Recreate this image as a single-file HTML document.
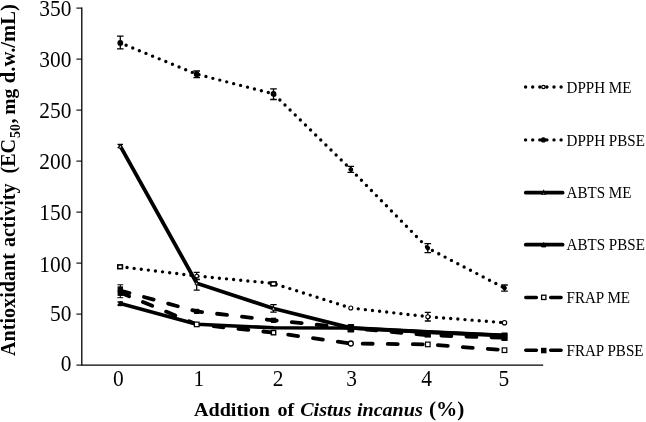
<!DOCTYPE html>
<html lang="en"><head><meta charset="utf-8"><title>Antioxidant activity chart</title>
<style>html,body{margin:0;padding:0;background:#fff;}body{width:646px;height:422px;overflow:hidden;}svg{display:block;}text{font-family:'Liberation Serif', 'DejaVu Serif', serif;fill:#000;}</style></head><body>
<svg width="646" height="422" viewBox="0 0 646 422">
<rect width="646" height="422" fill="#fff"/>
<g stroke="#000" stroke-width="1.3" fill="none">
<path d="M81.8 7.4V365.15H543.2"/>
<path d="M76.4 365.1H81.8" stroke-width="1.1"/>
<path d="M76.4 314.1H81.8" stroke-width="1.1"/>
<path d="M76.4 263.1H81.8" stroke-width="1.1"/>
<path d="M76.4 212.1H81.8" stroke-width="1.1"/>
<path d="M76.4 161.1H81.8" stroke-width="1.1"/>
<path d="M76.4 110.1H81.8" stroke-width="1.1"/>
<path d="M76.4 59.1H81.8" stroke-width="1.1"/>
<path d="M76.4 8.1H81.8" stroke-width="1.1"/>
</g>
<g font-size="21.4" text-anchor="end">
<text transform="translate(71.4 370.8) scale(1 1.088)">0</text>
<text transform="translate(71.4 321.3) scale(1 1.088)">50</text>
<text transform="translate(71.4 271.6) scale(1 1.088)">100</text>
<text transform="translate(71.4 219.7) scale(1 1.088)">150</text>
<text transform="translate(71.4 169.2) scale(1 1.088)">200</text>
<text transform="translate(71.4 118.0) scale(1 1.088)">250</text>
<text transform="translate(71.4 67.0) scale(1 1.088)">300</text>
<text transform="translate(71.4 15.6) scale(1 1.088)">350</text>
</g>
<g font-size="21.4" text-anchor="middle">
<text transform="translate(118.3 385.7) scale(1 1.088)">0</text>
<text transform="translate(198.8 385.7) scale(1 1.088)">1</text>
<text transform="translate(278.1 385.7) scale(1 1.088)">2</text>
<text transform="translate(351.7 385.7) scale(1 1.088)">3</text>
<text transform="translate(426.7 385.7) scale(1 1.088)">4</text>
<text transform="translate(503.8 385.7) scale(1 1.088)">5</text>
</g>
<g transform="translate(0 415.7) scale(1 0.935)" font-weight="bold">
<text x="194.0" y="0" font-size="20.1">Addition</text>
<text x="277.4" y="0" font-size="20.1">of</text>
<text x="300.2" y="0" font-size="20.1" font-style="italic">Cistus</text>
<text x="356.9" y="0" font-size="20.1" font-style="italic">incanus</text>
<text x="429.0" y="0" font-size="21.3">(%)</text>
</g>
<g transform="translate(14.7 353.3) rotate(-90)" font-weight="bold">
<text x="-2.6" y="0" font-size="20.1">Antioxidant</text>
<text x="106.2" y="0" font-size="20.1">activity</text>
<text x="179.8" y="0" font-size="20.1">(EC</text>
<text x="215.4" y="5.0" font-size="13.8">50</text>
<text x="229.9" y="0" font-size="20.1">,</text>
<text x="238.6" y="0" font-size="19.6">mg</text>
<text x="270.1" y="0" font-size="20.6">d.w./mL)</text>
</g>
<path d="M125.35 267.52a1.7 1.7 0 1 0 3.4 0a1.7 1.7 0 1 0 -3.4 0zM132.45 268.39a1.7 1.7 0 1 0 3.4 0a1.7 1.7 0 1 0 -3.4 0zM139.55 269.25a1.7 1.7 0 1 0 3.4 0a1.7 1.7 0 1 0 -3.4 0zM146.64 270.11a1.7 1.7 0 1 0 3.4 0a1.7 1.7 0 1 0 -3.4 0zM153.74 270.98a1.7 1.7 0 1 0 3.4 0a1.7 1.7 0 1 0 -3.4 0zM160.84 271.84a1.7 1.7 0 1 0 3.4 0a1.7 1.7 0 1 0 -3.4 0zM167.94 272.71a1.7 1.7 0 1 0 3.4 0a1.7 1.7 0 1 0 -3.4 0zM175.03 273.57a1.7 1.7 0 1 0 3.4 0a1.7 1.7 0 1 0 -3.4 0zM182.13 274.43a1.7 1.7 0 1 0 3.4 0a1.7 1.7 0 1 0 -3.4 0zM189.23 275.30a1.7 1.7 0 1 0 3.4 0a1.7 1.7 0 1 0 -3.4 0zM196.33 276.13a1.7 1.7 0 1 0 3.4 0a1.7 1.7 0 1 0 -3.4 0zM203.45 276.81a1.7 1.7 0 1 0 3.4 0a1.7 1.7 0 1 0 -3.4 0zM210.56 277.50a1.7 1.7 0 1 0 3.4 0a1.7 1.7 0 1 0 -3.4 0zM217.68 278.19a1.7 1.7 0 1 0 3.4 0a1.7 1.7 0 1 0 -3.4 0zM224.80 278.87a1.7 1.7 0 1 0 3.4 0a1.7 1.7 0 1 0 -3.4 0zM231.92 279.56a1.7 1.7 0 1 0 3.4 0a1.7 1.7 0 1 0 -3.4 0zM239.03 280.24a1.7 1.7 0 1 0 3.4 0a1.7 1.7 0 1 0 -3.4 0zM246.15 280.93a1.7 1.7 0 1 0 3.4 0a1.7 1.7 0 1 0 -3.4 0zM253.27 281.61a1.7 1.7 0 1 0 3.4 0a1.7 1.7 0 1 0 -3.4 0zM260.38 282.30a1.7 1.7 0 1 0 3.4 0a1.7 1.7 0 1 0 -3.4 0zM267.50 282.99a1.7 1.7 0 1 0 3.4 0a1.7 1.7 0 1 0 -3.4 0zM274.50 284.26a1.7 1.7 0 1 0 3.4 0a1.7 1.7 0 1 0 -3.4 0zM281.31 286.43a1.7 1.7 0 1 0 3.4 0a1.7 1.7 0 1 0 -3.4 0zM288.12 288.59a1.7 1.7 0 1 0 3.4 0a1.7 1.7 0 1 0 -3.4 0zM294.94 290.76a1.7 1.7 0 1 0 3.4 0a1.7 1.7 0 1 0 -3.4 0zM301.75 292.93a1.7 1.7 0 1 0 3.4 0a1.7 1.7 0 1 0 -3.4 0zM308.56 295.10a1.7 1.7 0 1 0 3.4 0a1.7 1.7 0 1 0 -3.4 0zM315.38 297.27a1.7 1.7 0 1 0 3.4 0a1.7 1.7 0 1 0 -3.4 0zM322.19 299.44a1.7 1.7 0 1 0 3.4 0a1.7 1.7 0 1 0 -3.4 0zM329.00 301.60a1.7 1.7 0 1 0 3.4 0a1.7 1.7 0 1 0 -3.4 0zM335.82 303.77a1.7 1.7 0 1 0 3.4 0a1.7 1.7 0 1 0 -3.4 0zM342.63 305.94a1.7 1.7 0 1 0 3.4 0a1.7 1.7 0 1 0 -3.4 0zM349.46 308.04a1.7 1.7 0 1 0 3.4 0a1.7 1.7 0 1 0 -3.4 0zM356.56 308.84a1.7 1.7 0 1 0 3.4 0a1.7 1.7 0 1 0 -3.4 0zM363.67 309.65a1.7 1.7 0 1 0 3.4 0a1.7 1.7 0 1 0 -3.4 0zM370.77 310.45a1.7 1.7 0 1 0 3.4 0a1.7 1.7 0 1 0 -3.4 0zM377.88 311.25a1.7 1.7 0 1 0 3.4 0a1.7 1.7 0 1 0 -3.4 0zM384.98 312.05a1.7 1.7 0 1 0 3.4 0a1.7 1.7 0 1 0 -3.4 0zM392.09 312.86a1.7 1.7 0 1 0 3.4 0a1.7 1.7 0 1 0 -3.4 0zM399.19 313.66a1.7 1.7 0 1 0 3.4 0a1.7 1.7 0 1 0 -3.4 0zM406.30 314.46a1.7 1.7 0 1 0 3.4 0a1.7 1.7 0 1 0 -3.4 0zM413.40 315.27a1.7 1.7 0 1 0 3.4 0a1.7 1.7 0 1 0 -3.4 0zM420.51 316.07a1.7 1.7 0 1 0 3.4 0a1.7 1.7 0 1 0 -3.4 0zM427.62 316.82a1.7 1.7 0 1 0 3.4 0a1.7 1.7 0 1 0 -3.4 0zM434.74 317.38a1.7 1.7 0 1 0 3.4 0a1.7 1.7 0 1 0 -3.4 0zM441.87 317.93a1.7 1.7 0 1 0 3.4 0a1.7 1.7 0 1 0 -3.4 0zM449.00 318.49a1.7 1.7 0 1 0 3.4 0a1.7 1.7 0 1 0 -3.4 0zM456.13 319.05a1.7 1.7 0 1 0 3.4 0a1.7 1.7 0 1 0 -3.4 0zM463.26 319.61a1.7 1.7 0 1 0 3.4 0a1.7 1.7 0 1 0 -3.4 0zM470.39 320.16a1.7 1.7 0 1 0 3.4 0a1.7 1.7 0 1 0 -3.4 0zM477.51 320.72a1.7 1.7 0 1 0 3.4 0a1.7 1.7 0 1 0 -3.4 0zM484.64 321.28a1.7 1.7 0 1 0 3.4 0a1.7 1.7 0 1 0 -3.4 0zM491.77 321.84a1.7 1.7 0 1 0 3.4 0a1.7 1.7 0 1 0 -3.4 0zM498.90 322.39a1.7 1.7 0 1 0 3.4 0a1.7 1.7 0 1 0 -3.4 0z" fill="#000"/>
<path d="M124.43 45.29a1.7 1.7 0 1 0 3.4 0a1.7 1.7 0 1 0 -3.4 0zM131.05 48.00a1.7 1.7 0 1 0 3.4 0a1.7 1.7 0 1 0 -3.4 0zM137.66 50.71a1.7 1.7 0 1 0 3.4 0a1.7 1.7 0 1 0 -3.4 0zM144.28 53.42a1.7 1.7 0 1 0 3.4 0a1.7 1.7 0 1 0 -3.4 0zM150.89 56.13a1.7 1.7 0 1 0 3.4 0a1.7 1.7 0 1 0 -3.4 0zM157.51 58.84a1.7 1.7 0 1 0 3.4 0a1.7 1.7 0 1 0 -3.4 0zM164.13 61.55a1.7 1.7 0 1 0 3.4 0a1.7 1.7 0 1 0 -3.4 0zM170.74 64.26a1.7 1.7 0 1 0 3.4 0a1.7 1.7 0 1 0 -3.4 0zM177.36 66.97a1.7 1.7 0 1 0 3.4 0a1.7 1.7 0 1 0 -3.4 0zM183.98 69.68a1.7 1.7 0 1 0 3.4 0a1.7 1.7 0 1 0 -3.4 0zM190.59 72.39a1.7 1.7 0 1 0 3.4 0a1.7 1.7 0 1 0 -3.4 0zM197.31 74.79a1.7 1.7 0 1 0 3.4 0a1.7 1.7 0 1 0 -3.4 0zM204.24 76.56a1.7 1.7 0 1 0 3.4 0a1.7 1.7 0 1 0 -3.4 0zM211.17 78.33a1.7 1.7 0 1 0 3.4 0a1.7 1.7 0 1 0 -3.4 0zM218.10 80.09a1.7 1.7 0 1 0 3.4 0a1.7 1.7 0 1 0 -3.4 0zM225.02 81.86a1.7 1.7 0 1 0 3.4 0a1.7 1.7 0 1 0 -3.4 0zM231.95 83.63a1.7 1.7 0 1 0 3.4 0a1.7 1.7 0 1 0 -3.4 0zM238.88 85.40a1.7 1.7 0 1 0 3.4 0a1.7 1.7 0 1 0 -3.4 0zM245.81 87.17a1.7 1.7 0 1 0 3.4 0a1.7 1.7 0 1 0 -3.4 0zM252.74 88.93a1.7 1.7 0 1 0 3.4 0a1.7 1.7 0 1 0 -3.4 0zM259.66 90.70a1.7 1.7 0 1 0 3.4 0a1.7 1.7 0 1 0 -3.4 0zM266.59 92.47a1.7 1.7 0 1 0 3.4 0a1.7 1.7 0 1 0 -3.4 0zM273.07 95.04a1.7 1.7 0 1 0 3.4 0a1.7 1.7 0 1 0 -3.4 0zM278.18 100.04a1.7 1.7 0 1 0 3.4 0a1.7 1.7 0 1 0 -3.4 0zM283.29 105.04a1.7 1.7 0 1 0 3.4 0a1.7 1.7 0 1 0 -3.4 0zM288.40 110.04a1.7 1.7 0 1 0 3.4 0a1.7 1.7 0 1 0 -3.4 0zM293.52 115.04a1.7 1.7 0 1 0 3.4 0a1.7 1.7 0 1 0 -3.4 0zM298.63 120.04a1.7 1.7 0 1 0 3.4 0a1.7 1.7 0 1 0 -3.4 0zM303.74 125.04a1.7 1.7 0 1 0 3.4 0a1.7 1.7 0 1 0 -3.4 0zM308.85 130.04a1.7 1.7 0 1 0 3.4 0a1.7 1.7 0 1 0 -3.4 0zM313.96 135.04a1.7 1.7 0 1 0 3.4 0a1.7 1.7 0 1 0 -3.4 0zM319.07 140.03a1.7 1.7 0 1 0 3.4 0a1.7 1.7 0 1 0 -3.4 0zM324.19 145.03a1.7 1.7 0 1 0 3.4 0a1.7 1.7 0 1 0 -3.4 0zM329.30 150.03a1.7 1.7 0 1 0 3.4 0a1.7 1.7 0 1 0 -3.4 0zM334.41 155.03a1.7 1.7 0 1 0 3.4 0a1.7 1.7 0 1 0 -3.4 0zM339.52 160.03a1.7 1.7 0 1 0 3.4 0a1.7 1.7 0 1 0 -3.4 0zM344.63 165.03a1.7 1.7 0 1 0 3.4 0a1.7 1.7 0 1 0 -3.4 0zM349.73 170.04a1.7 1.7 0 1 0 3.4 0a1.7 1.7 0 1 0 -3.4 0zM354.73 175.16a1.7 1.7 0 1 0 3.4 0a1.7 1.7 0 1 0 -3.4 0zM359.73 180.27a1.7 1.7 0 1 0 3.4 0a1.7 1.7 0 1 0 -3.4 0zM364.73 185.38a1.7 1.7 0 1 0 3.4 0a1.7 1.7 0 1 0 -3.4 0zM369.73 190.49a1.7 1.7 0 1 0 3.4 0a1.7 1.7 0 1 0 -3.4 0zM374.73 195.60a1.7 1.7 0 1 0 3.4 0a1.7 1.7 0 1 0 -3.4 0zM379.73 200.71a1.7 1.7 0 1 0 3.4 0a1.7 1.7 0 1 0 -3.4 0zM384.73 205.82a1.7 1.7 0 1 0 3.4 0a1.7 1.7 0 1 0 -3.4 0zM389.73 210.93a1.7 1.7 0 1 0 3.4 0a1.7 1.7 0 1 0 -3.4 0zM394.73 216.04a1.7 1.7 0 1 0 3.4 0a1.7 1.7 0 1 0 -3.4 0zM399.73 221.15a1.7 1.7 0 1 0 3.4 0a1.7 1.7 0 1 0 -3.4 0zM404.73 226.26a1.7 1.7 0 1 0 3.4 0a1.7 1.7 0 1 0 -3.4 0zM409.73 231.37a1.7 1.7 0 1 0 3.4 0a1.7 1.7 0 1 0 -3.4 0zM414.73 236.48a1.7 1.7 0 1 0 3.4 0a1.7 1.7 0 1 0 -3.4 0zM419.74 241.59a1.7 1.7 0 1 0 3.4 0a1.7 1.7 0 1 0 -3.4 0zM424.74 246.71a1.7 1.7 0 1 0 3.4 0a1.7 1.7 0 1 0 -3.4 0zM430.71 250.50a1.7 1.7 0 1 0 3.4 0a1.7 1.7 0 1 0 -3.4 0zM437.06 253.80a1.7 1.7 0 1 0 3.4 0a1.7 1.7 0 1 0 -3.4 0zM443.40 257.10a1.7 1.7 0 1 0 3.4 0a1.7 1.7 0 1 0 -3.4 0zM449.74 260.40a1.7 1.7 0 1 0 3.4 0a1.7 1.7 0 1 0 -3.4 0zM456.08 263.70a1.7 1.7 0 1 0 3.4 0a1.7 1.7 0 1 0 -3.4 0zM462.43 267.00a1.7 1.7 0 1 0 3.4 0a1.7 1.7 0 1 0 -3.4 0zM468.77 270.30a1.7 1.7 0 1 0 3.4 0a1.7 1.7 0 1 0 -3.4 0zM475.11 273.60a1.7 1.7 0 1 0 3.4 0a1.7 1.7 0 1 0 -3.4 0zM481.46 276.90a1.7 1.7 0 1 0 3.4 0a1.7 1.7 0 1 0 -3.4 0zM487.80 280.20a1.7 1.7 0 1 0 3.4 0a1.7 1.7 0 1 0 -3.4 0zM494.14 283.50a1.7 1.7 0 1 0 3.4 0a1.7 1.7 0 1 0 -3.4 0zM500.49 286.80a1.7 1.7 0 1 0 3.4 0a1.7 1.7 0 1 0 -3.4 0z" fill="#000"/>
<polyline points="120.3,292.5 196.7,324.4 273.5,332.6 350.8,343.5 427.8,344.4 504.5,350.2" stroke="#000" stroke-width="3.8" stroke-linecap="round" stroke-dashoffset="0.5" stroke-dasharray="10.0 15.05" fill="none"/>
<polyline points="120.3,290.5 196.7,311.4 273.5,320.3 350.8,328.0 427.8,335.3 504.5,337.7" stroke="#000" stroke-width="3.8" stroke-linecap="round" stroke-dashoffset="0.5" stroke-dasharray="10.0 15.05" fill="none"/>
<polyline points="120.3,146.1 196.7,283.2 273.5,308.5 350.8,327.8 427.8,332.0 504.5,335.4" stroke="#000" stroke-width="3.8" stroke-linecap="round" stroke-linejoin="round" fill="none"/>
<polyline points="120.3,303.5 196.7,324.2 273.5,327.8 350.8,328.0 427.8,332.1 504.5,335.5" stroke="#000" stroke-width="3.6" stroke-linecap="round" stroke-linejoin="round" fill="none"/>
<path d="M120.3 36.2V48.9M117.0 36.2H123.6M117.0 48.9H123.6" stroke="#000" stroke-width="1.3" fill="none"/>
<path d="M196.7 71.0V77.7M193.4 71.0H200.0M193.4 77.7H200.0" stroke="#000" stroke-width="1.3" fill="none"/>
<path d="M273.5 88.9V99.5M270.2 88.9H276.8M270.2 99.5H276.8" stroke="#000" stroke-width="1.3" fill="none"/>
<path d="M350.8 166.4V172.3M347.5 166.4H354.1M347.5 172.3H354.1" stroke="#000" stroke-width="1.3" fill="none"/>
<path d="M427.8 243.6V252.7M424.5 243.6H431.1M424.5 252.7H431.1" stroke="#000" stroke-width="1.3" fill="none"/>
<path d="M504.5 285.0V291.2M501.2 285.0H507.8M501.2 291.2H507.8" stroke="#000" stroke-width="1.3" fill="none"/>
<circle cx="120.3" cy="42.9" r="2.3" fill="#000" stroke="#000" stroke-width="1.2"/>
<circle cx="196.7" cy="74.2" r="2.3" fill="#000" stroke="#000" stroke-width="1.2"/>
<circle cx="273.5" cy="93.8" r="2.3" fill="#000" stroke="#000" stroke-width="1.2"/>
<circle cx="350.8" cy="169.4" r="1.9" fill="#000" stroke="#000" stroke-width="1.0"/>
<circle cx="427.8" cy="248.1" r="1.9" fill="#000" stroke="#000" stroke-width="1.0"/>
<circle cx="504.5" cy="288.0" r="1.9" fill="#000" stroke="#000" stroke-width="1.0"/>
<path d="M196.7 272.3V279.5M193.7 272.3H199.7M193.7 279.5H199.7" stroke="#000" stroke-width="1.3" fill="none"/>
<path d="M427.8 312.4V321.0M424.8 312.4H430.8M424.8 321.0H430.8" stroke="#000" stroke-width="1.3" fill="none"/>
<rect x="117.8" y="264.9" width="4.6" height="3.8" fill="#fff" stroke="#000" stroke-width="1.6"/>
<circle cx="196.7" cy="276.0" r="1.8" fill="#fff" stroke="#000" stroke-width="1.1"/>
<rect x="270.9" y="281.9" width="5.2" height="3.9" fill="#fff" stroke="#000" stroke-width="1.6"/>
<circle cx="350.8" cy="308.0" r="2.0" fill="#fff" stroke="#000" stroke-width="1.1"/>
<circle cx="427.8" cy="316.7" r="2.0" fill="#fff" stroke="#000" stroke-width="1.1"/>
<circle cx="504.5" cy="322.7" r="2.2" fill="#fff" stroke="#000" stroke-width="1.2"/>
<path d="M120.3 144.3V147.6M117.5 144.3H123.0M117.5 147.6H123.0" stroke="#000" stroke-width="1.3" fill="none"/>
<path d="M196.7 279.3V290.1M193.7 279.3H199.7M193.7 290.1H199.7" stroke="#000" stroke-width="1.3" fill="none"/>
<path d="M273.5 304.6V312.1M270.3 304.6H276.7M270.3 312.1H276.7" stroke="#000" stroke-width="1.3" fill="none"/>
<path d="M120.3 144.7L121.9 147.9H118.7Z" fill="#fff" stroke="#000" stroke-width="0.9"/>
<path d="M196.7 281.6L198.3 284.8H195.1Z" fill="#fff" stroke="#000" stroke-width="0.9"/>
<path d="M273.5 306.9L275.1 310.1H271.9Z" fill="#fff" stroke="#000" stroke-width="0.9"/>
<path d="M120.3 302.0V305.0M117.5 302.0H123.0M117.5 305.0H123.0" stroke="#000" stroke-width="1.3" fill="none"/>
<path d="M120.3 301.3L122.5 305.7H118.1Z" fill="#000" stroke="#000" stroke-width="1.0"/>
<path d="M196.7 322.2L198.7 326.2H194.7Z" fill="#000" stroke="#000" stroke-width="1.0"/>
<path d="M120.3 284.8V297.7M117.4 284.8H123.2M117.4 297.7H123.2" stroke="#000" stroke-width="1.0" fill="none"/>
<rect x="118.2" y="287.0" width="4.2" height="4.2" fill="#000" stroke="#000" stroke-width="1.2"/>
<rect x="118.2" y="291.1" width="4.2" height="4.2" fill="#000" stroke="#000" stroke-width="1.2"/>
<rect x="194.7" y="309.4" width="4.0" height="4.0" fill="#000" stroke="#000" stroke-width="1.2"/>
<rect x="271.5" y="318.3" width="4.0" height="4.0" fill="#000" stroke="#000" stroke-width="1.2"/>
<rect x="347.5" y="323.9" width="6.7" height="8.7" rx="1.2" fill="#000"/>
<rect x="425.3" y="332.0" width="5.0" height="5.0" fill="#000" stroke="#000" stroke-width="1.2"/>
<rect x="501.3" y="332.6" width="6.4" height="8.5" rx="0.8" fill="#000"/>
<rect x="194.4" y="322.1" width="4.6" height="4.6" fill="#fff" stroke="#000" stroke-width="1.2"/>
<rect x="271.4" y="330.5" width="4.3" height="4.3" fill="#fff" stroke="#000" stroke-width="1.4"/>
<circle cx="350.8" cy="343.5" r="2.5" fill="#fff" stroke="#000" stroke-width="1.3"/>
<rect x="425.5" y="342.1" width="4.6" height="4.6" fill="#fff" stroke="#000" stroke-width="1.2"/>
<rect x="502.2" y="347.9" width="4.6" height="4.6" fill="#fff" stroke="#000" stroke-width="1.2"/>
<path d="M523.90 87.00a1.7 1.7 0 1 0 3.4 0a1.7 1.7 0 1 0 -3.4 0zM531.00 87.00a1.7 1.7 0 1 0 3.4 0a1.7 1.7 0 1 0 -3.4 0zM538.10 87.00a1.7 1.7 0 1 0 3.4 0a1.7 1.7 0 1 0 -3.4 0zM545.20 87.00a1.7 1.7 0 1 0 3.4 0a1.7 1.7 0 1 0 -3.4 0zM552.30 87.00a1.7 1.7 0 1 0 3.4 0a1.7 1.7 0 1 0 -3.4 0zM559.40 87.00a1.7 1.7 0 1 0 3.4 0a1.7 1.7 0 1 0 -3.4 0z" fill="#000"/>
<path d="M523.90 139.90a1.7 1.7 0 1 0 3.4 0a1.7 1.7 0 1 0 -3.4 0zM531.00 139.90a1.7 1.7 0 1 0 3.4 0a1.7 1.7 0 1 0 -3.4 0zM538.10 139.90a1.7 1.7 0 1 0 3.4 0a1.7 1.7 0 1 0 -3.4 0zM545.20 139.90a1.7 1.7 0 1 0 3.4 0a1.7 1.7 0 1 0 -3.4 0zM552.30 139.90a1.7 1.7 0 1 0 3.4 0a1.7 1.7 0 1 0 -3.4 0zM559.40 139.90a1.7 1.7 0 1 0 3.4 0a1.7 1.7 0 1 0 -3.4 0z" fill="#000"/>
<path d="M525.8 192.7H562.6" stroke="#000" stroke-width="3.8" stroke-linecap="round" stroke-linejoin="round" fill="none"/>
<path d="M525.8 244.7H562.6" stroke="#000" stroke-width="3.8" stroke-linecap="round" stroke-linejoin="round" fill="none"/>
<path d="M525.8 297.4H536.4M550.7 297.4H561.1" stroke="#000" stroke-width="3.5" stroke-linecap="round" fill="none"/>
<path d="M525.8 350.3H536.4M550.7 350.3H561.1" stroke="#000" stroke-width="3.5" stroke-linecap="round" fill="none"/>
<circle cx="543.4" cy="87.0" r="1.7" fill="#fff" stroke="#000" stroke-width="1.3"/>
<circle cx="543.4" cy="139.9" r="2.1" fill="#000" stroke="#000" stroke-width="1.1"/>
<path d="M543.7 190.8L545.4 194.2H542.0Z" fill="#fff" stroke="#000" stroke-width="1.3"/>
<path d="M543.7 242.5L545.9 246.9H541.5Z" fill="#000" stroke="#000" stroke-width="1.0"/>
<rect x="541.6" y="295.2" width="4.3" height="4.3" fill="#fff" stroke="#000" stroke-width="1.3"/>
<rect x="541.6" y="348.4" width="4.3" height="4.3" fill="#000" stroke="#000" stroke-width="1.2"/>
<g font-size="15.1">
<text transform="translate(566.5 92.6) scale(1 1.06)" xml:space="preserve">DPPH ME</text>
<text transform="translate(566.5 145.5) scale(1 1.06)" xml:space="preserve">DPPH PBSE</text>
<text transform="translate(566.5 198.3) scale(1 1.06)" xml:space="preserve">ABTS ME</text>
<text transform="translate(566.5 250.3) scale(1 1.06)" xml:space="preserve">ABTS PBSE</text>
<text transform="translate(566.5 303.0) scale(1 1.06)" xml:space="preserve">FRAP ME</text>
<text transform="translate(566.5 355.9) scale(1 1.06)" xml:space="preserve">FRAP PBSE</text>
</g>
</svg></body></html>
